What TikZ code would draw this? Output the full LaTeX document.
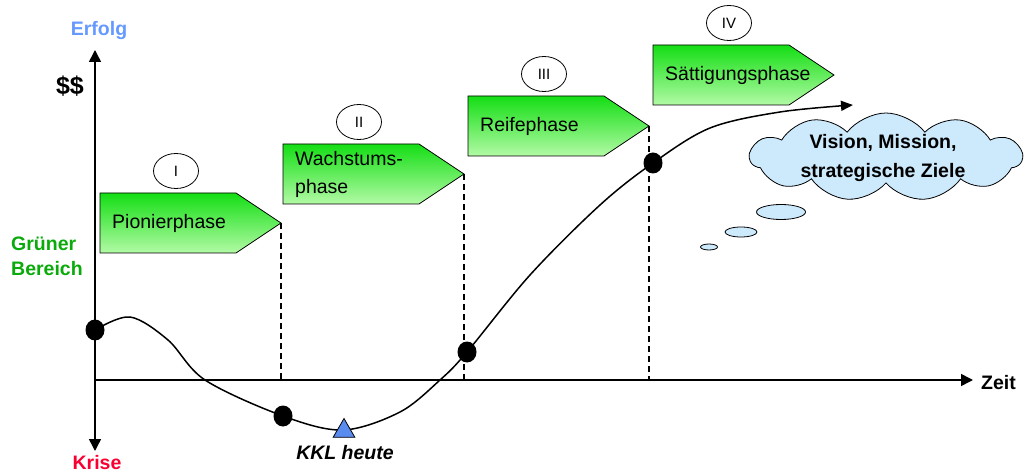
\documentclass[tikz,border=0pt]{standalone}
\usepackage{fontspec}
\setmainfont{Liberation Sans}
\usetikzlibrary{arrows.meta,shapes.geometric,shapes.symbols}
\definecolor{erfolgblue}{RGB}{102,153,255}
\definecolor{gruen}{RGB}{10,170,10}
\definecolor{kriserot}{RGB}{250,0,50}
\definecolor{phasetop}{RGB}{20,222,20}
\definecolor{phasebottom}{RGB}{178,250,165}
\definecolor{wolke}{RGB}{205,233,252}
\definecolor{kklblue}{RGB}{90,140,240}
\begin{document}
\begin{tikzpicture}[x=1pt,y=-1pt,
    every node/.style={font=\fontsize{19.5}{28}\selectfont},
    lbl/.style={font=\bfseries\fontsize{19.5}{25}\selectfont},
    axtip/.tip={Triangle[length=12pt,width=12pt]},
    dot/.style={ellipse,fill=black,minimum width=19pt,minimum height=21pt,inner sep=0pt},
    numeral/.style={ellipse,draw,line width=0.8pt,fill=white,minimum width=45pt,minimum height=35pt,inner sep=0pt,font=\fontsize{15}{18}\selectfont},
    bubble/.style={ellipse,draw,line width=0.8pt,fill=wolke,inner sep=0pt},
    phaseline/.style={line width=1.5pt,dash pattern=on 6pt off 4pt}]
  \useasboundingbox (0,0) rectangle (1026,473);

  % Achsen
  \coordinate (O) at (95,380);
  \coordinate (ytop) at (95,50);
  \coordinate (ybot) at (95,451);
  \coordinate (xend) at (973,380);
  \draw[line width=1.5pt,axtip-axtip] (ytop) -- (ybot);
  \draw[line width=1.5pt,-axtip] (O) -- (xend);

  % Phasen mit Nummer
  \foreach \name/\x/\y/\num/\txt in {pio/100/193/I/Pionierphase,
      wachs/283/144/II/{Wachstums-\\phase},
      reife/468/96/III/Reifephase,
      satt/653/45/IV/Sättigungsphase} {
    \shadedraw[line width=0.8pt,top color=phasetop,bottom color=phasebottom]
      (\x,\y) -- ++(136,0) -- ++(45,30) -- ++(-45,30) -- ++(-136,0) -- cycle;
    \coordinate (\name) at (\x+181,\y+30);
    \node[anchor=west,align=left,inner sep=0pt] (\name text) at (\x+12,\y+30) {\txt};
    \node[numeral] (\name num) at (\x+76,\y-22) {\num};
  }
  % gestrichelte Phasengrenzen
  \foreach \name in {pio,wachs,reife}
    \draw[phaseline] (\name) -- (\name |- O);

  % Punkte auf der Kurve
  \node[dot] (d1) at (95,330) {};
  \node[dot] (d2) at (283,416) {};
  \node[dot] (d3) at (467,352) {};
  \node[dot] (d4) at (653,163) {};
  \coordinate (trend) at (853,105);

  % Kurve
  \draw[line width=1.5pt,-{Triangle[length=12pt,width=10pt]}] plot[smooth,tension=0.55]
    coordinates {(d1.center) (130,317) (168,340) (205,380) (d2.center) (343,430) (400,412)
      (440,380) (d3.center) (530,275) (600,205) (d4.center) (710,128) (780,112) (trend)};

  % KKL heute
  \node[regular polygon,regular polygon sides=3,draw,line width=0.8pt,fill=kklblue,
    minimum size=25pt,inner sep=0pt] (kkl) at (344,431) {};
  \node[lbl,font=\bfseries\itshape\fontsize{19.5}{25}\selectfont,anchor=base] (kkltext) at (345,459) {KKL heute};

  % Wolke
  \node[cloud,cloud puffs=11,cloud puff arc=105,cloud ignores aspect,draw,line width=0.8pt,fill=wolke,
    inner sep=0pt,minimum width=272pt,minimum height=88pt] (ziel) at (886,157) {};
  \node[align=center,font=\bfseries\fontsize{19.5}{29}\selectfont] (ziel text) at (883,158) {Vision, Mission,\\strategische Ziele};
  \node[bubble,minimum width=49pt,minimum height=15pt] (b1) at (781,212) {};
  \node[bubble,minimum width=32pt,minimum height=10pt] (b2) at (741,232) {};
  \node[bubble,minimum width=17pt,minimum height=6pt] (b3) at (709,247) {};

  % Beschriftungen
  \node[lbl,text=erfolgblue,anchor=base] (erfolg) at (99,36) {Erfolg};
  \node[font=\bfseries\fontsize{25}{30}\selectfont,anchor=base] (dollar) at (70,95) {\$\$};
  \node[lbl,text=gruen,align=left,anchor=west,inner sep=0pt] (gruen) at (11,256) {Grüner\\Bereich};
  \node[lbl,text=kriserot,anchor=base] (krise) at (97,469) {Krise};
  \node[lbl,anchor=base west,inner sep=0pt] (zeit) at (981,389) {Zeit};
\end{tikzpicture}
\end{document}
